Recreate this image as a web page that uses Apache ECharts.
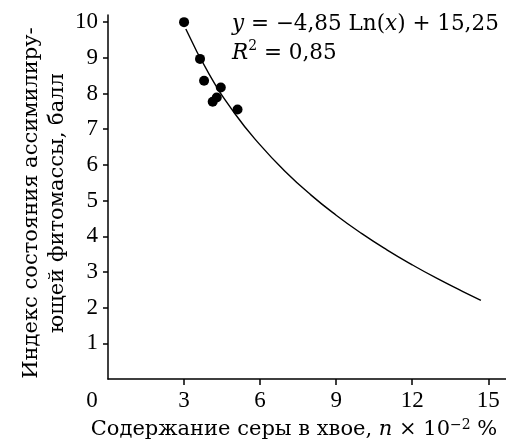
<!DOCTYPE html>
<html><head><meta charset="utf-8">
<script src="https://cdn.jsdelivr.net/npm/echarts@6/dist/echarts.min.js"></script>
<style>html,body{margin:0;padding:0;background:#fff}#c{width:506px;height:442px}</style>
</head><body><div id="c"></div>
<script>
// Observed points
const sulfurX = [3.0, 3.63, 3.79, 4.13, 4.29, 4.45, 5.11];
const indexY  = [10.0, 8.97, 8.36, 7.77, 7.89, 8.17, 7.55];
// Trend curve
const curveX = [3.07, 4, 5, 6, 7, 8, 9, 10, 11, 12, 13, 14, 14.71];
const curveY = [9.81, 8.53, 7.44, 6.56, 5.81, 5.16, 4.59, 4.08, 3.62, 3.20, 2.81, 2.45, 2.2];
const xTicks = [3, 6, 9, 12, 15];
const xLabels = [0, 3, 6, 9, 12, 15];
const yTicks = [1, 2, 3, 4, 5, 6, 7, 8, 9, 10];

const FONT = 'Liberation Serif';
const TFONT = 'DejaVu Serif';
const chart = echarts.init(document.getElementById('c'));
chart.setOption({
  animation: false,
  grid: {left: 108, top: 15, right: 0, bottom: 63, outerBoundsMode: 'none', containLabel: false},
  xAxis: {
    type: 'value', min: 0, max: 15.7,
    splitLine: {show: false},
    axisLine: {lineStyle: {color: '#000', width: 1.5}},
    axisTick: {customValues: xTicks, length: 6, lineStyle: {color: '#000', width: 1.5}},
    axisLabel: {
      customValues: xLabels, margin: 10, color: '#000', fontFamily: FONT, fontSize: 23,
      formatter: v => v === 0 ? '{z|0}' : String(v),
      rich: {z: {fontFamily: FONT, fontSize: 23, color: '#000', padding: [0, 32, 0, 0]}}
    },
    name: 'Содержание серы в хвое, {i|n} × 10{s|−2} %',
    nameLocation: 'middle', nameGap: 39,
    nameTextStyle: {
      color: '#000', fontFamily: TFONT, fontSize: 21, padding: [0, 26, 0, 0],
      rich: {
        i: {fontFamily: TFONT, fontSize: 21, fontStyle: 'italic', color: '#000'},
        s: {fontFamily: TFONT, fontSize: 14, color: '#000', verticalAlign: 'top', padding: [0, 0, 10, 0]}
      }
    }
  },
  yAxis: {
    type: 'value', min: 0, max: 10.2,
    splitLine: {show: false},
    axisLine: {lineStyle: {color: '#000', width: 1.5}},
    axisTick: {customValues: yTicks, length: 5, lineStyle: {color: '#000', width: 1.5}},
    axisLabel: {customValues: yTicks, margin: 10, color: '#000', fontFamily: FONT, fontSize: 23},
    name: 'Индекс состояния ассимилиру-\nющей фитомассы, балл',
    nameLocation: 'middle', nameRotate: 90, nameGap: 37, nameMoveOverlap: false,
    nameTextStyle: {color: '#000', fontFamily: TFONT, fontSize: 21, lineHeight: 26, align: 'center', padding: [0, 12, 0, 0]}
  },
  graphic: [{
    type: 'text', left: 232, top: 10,
    style: {
      text: '{i|y} = −4,85 Ln({i|x}) + 15,25\n{i|R}{s|2} = 0,85',
      fontFamily: TFONT, fontSize: 21.5, fill: '#000', lineHeight: 29,
      rich: {
        i: {fontFamily: TFONT, fontSize: 21.5, fontStyle: 'italic', fill: '#000'},
        s: {fontFamily: TFONT, fontSize: 14, fill: '#000', verticalAlign: 'top', padding: [0, 0, 8, 0]}
      }
    }
  }],
  series: [
    {type: 'line', data: curveX.map((x, i) => [x, curveY[i]]), smooth: true, showSymbol: false,
     lineStyle: {color: '#000', width: 1.4}, z: 2},
    {type: 'scatter', data: sulfurX.map((x, i) => [x, indexY[i]]), symbolSize: 10,
     itemStyle: {color: '#000', opacity: 1}, z: 3}
  ]
});
</script></body></html>
